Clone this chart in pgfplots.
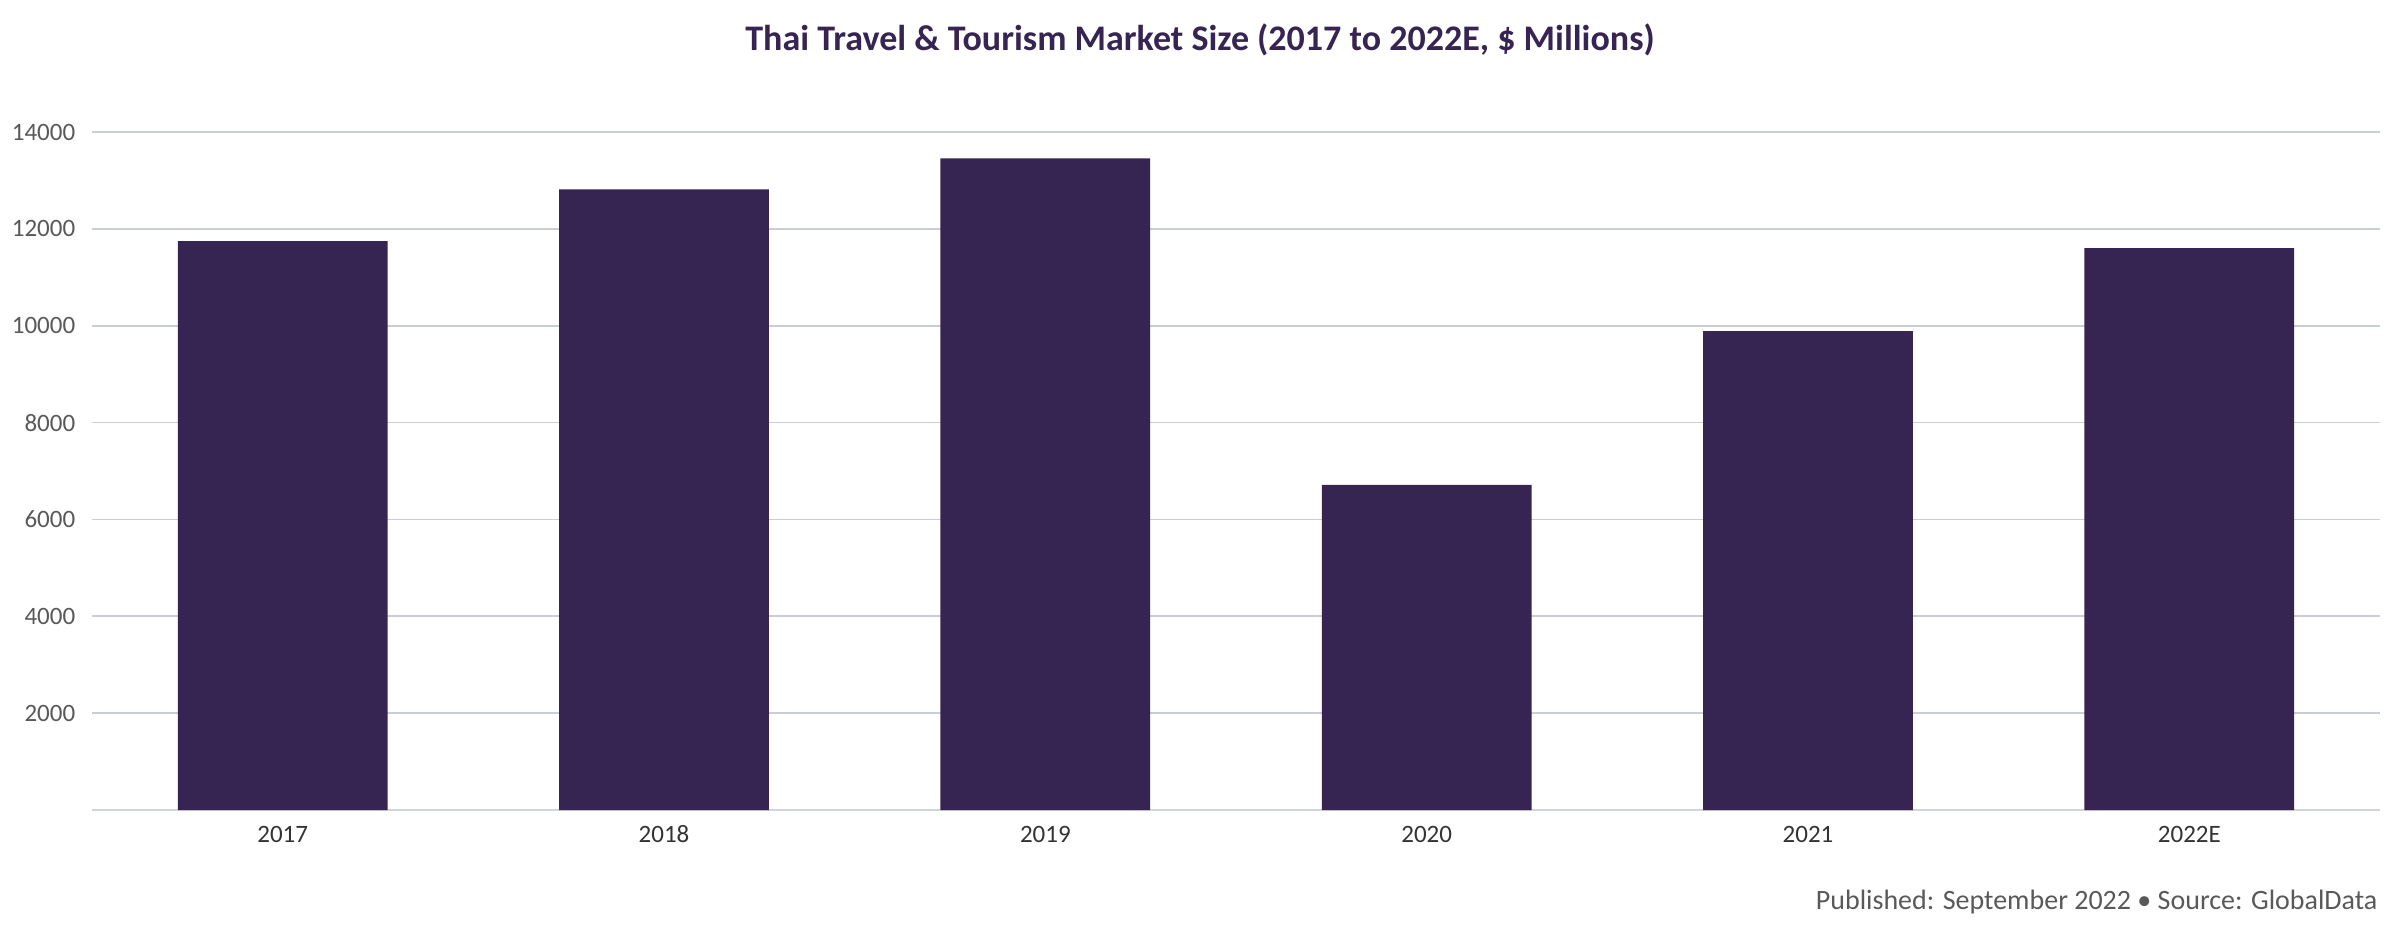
\documentclass[border=0pt]{standalone}
\usepackage{fontspec}
\setmainfont{Carlito}
\usepackage{pgfplots}
\pgfplotsset{compat=1.18}
\definecolor{barpurple}{HTML}{362452}
\definecolor{gridgrey}{HTML}{C9CED4}
\definecolor{ticklab}{HTML}{595959}
\definecolor{xlab}{HTML}{333333}
\begin{document}
\begin{tikzpicture}
\path[use as bounding box] (0pt,0pt) rectangle (720pt,282pt);
\begin{axis}[
  at={(27.6pt,39pt)}, anchor=south west,
  scale only axis,
  width=686.4pt, height=203.4pt,
  xmin=-0.5, xmax=5.5,
  ymin=0, ymax=14000,
  xtick={0,1,2,3,4,5},
  xticklabels={2017,2018,2019,2020,2021,2022E},
  ytick={2000,4000,6000,8000,10000,12000,14000},
  scaled y ticks=false,
  /pgf/number format/assume math mode=true,
  yticklabel={\pgfmathprintnumber[fixed,precision=0,1000 sep={}]{\tick}},
  major tick length=0pt,
  axis x line*=bottom,
  axis y line*=left,
  y axis line style={draw=none},
  x axis line style={draw=gridgrey!85, line width=0.6pt},
  ymajorgrids=true,
  grid style={draw=gridgrey, line width=0.5pt},
  yticklabel style={font=\fontsize{7.5pt}{9pt}\selectfont, text=ticklab, xshift=-1.5pt},
  xticklabel style={font=\fontsize{7.5pt}{9pt}\selectfont, text=xlab, yshift=-1.2pt},
  ybar,
  bar width=0.55,
  clip=false,
]
\addplot[fill=barpurple, draw=none] coordinates {
  (0,11746) (1,12818) (2,13457) (3,6715) (4,9890) (5,11601)
};
\end{axis}
\node[anchor=base, text=barpurple, font=\fontsize{10.8pt}{13pt}\selectfont\bfseries] at (360pt,267pt) {Thai Travel \& Tourism Market Size (2017 to 2022E, \$ Millions)};
\node[anchor=base east, inner xsep=0pt, text=ticklab, font=\fontsize{8.4pt}{10pt}\selectfont] at (713.4pt,9.3pt) {Published: September 2022 • Source: GlobalData};
\end{tikzpicture}
\end{document}
